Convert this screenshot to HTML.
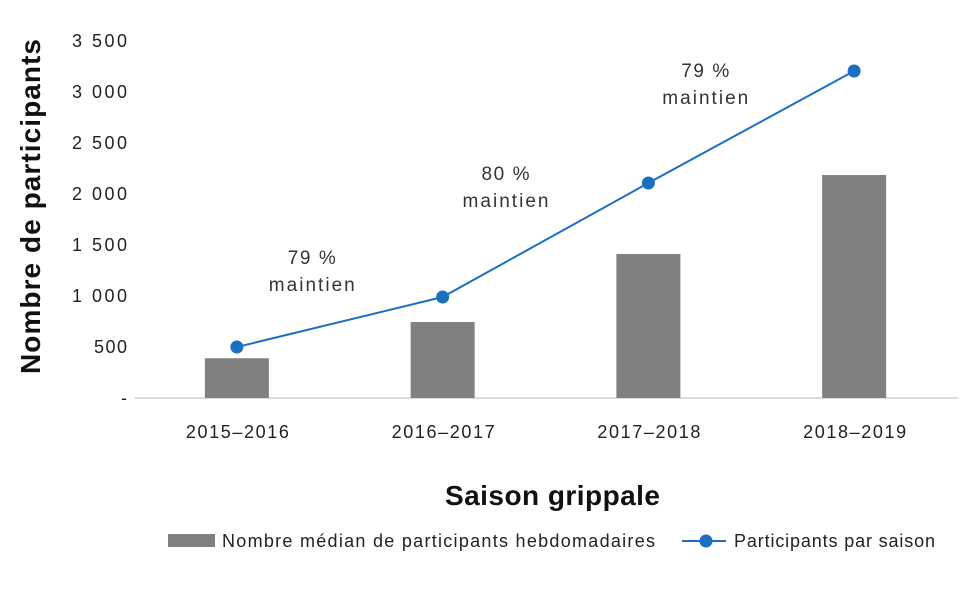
<!DOCTYPE html>
<html><head><meta charset="utf-8"><style>
body{margin:0;background:#fff;}
svg{display:block;font-family:"Liberation Sans",Arial,sans-serif;}
</style></head><body>
<svg id="chart" width="980" height="589"></svg>
<script>
const categories=["2015–2016","2016–2017","2017–2018","2018–2019"];
const medianWeekly=[390,745,1412,2186];
const perSeason=[500,990,2108,3206];
const yTicks=[0,500,1000,1500,2000,2500,3000,3500];
const yTickLabels=["-","500","1 000","1 500","2 000","2 500","3 000","3 500"];
const retentionPct=["79 %","80 %","79 %"];

const NS="http://www.w3.org/2000/svg";
const svg=document.getElementById('chart');
const L=135,R=958,T=41,B=398,yMax=3500;
const bw=(R-L)/categories.length;
const x=i=>L+bw*(i+0.5)-1;
const y=v=>B-(v/yMax)*(B-T);
const annDx=[-28,-40,-46], annDy=[-58,-60,-50];
function mk(tag,attrs,text){const e=document.createElementNS(NS,tag);for(const k in attrs)e.setAttribute(k,attrs[k]);if(text!==undefined)e.textContent=text;svg.appendChild(e);return e;}

yTicks.forEach((t,i)=>{
  const a={x:127,y:y(t)+6,'text-anchor':'end','font-size':18,fill:'#222'};
  if(yTickLabels[i].length>3)a.textLength=55;else if(yTickLabels[i].length==3)a.textLength=33;
  const e=mk('text',a,yTickLabels[i]);
  
  
});
const ax=mk('line',{x1:L,x2:R,y1:B,y2:B,stroke:'#bbb','stroke-width':1});



categories.forEach((c,i)=>{
  const b=mk('rect',{x:x(i)-32,y:y(medianWeekly[i]),width:64,height:B-y(medianWeekly[i]),fill:'#808080'});
  
  
  const t=mk('text',{x:x(i)-51,y:438,'font-size':18,fill:'#222',textLength:103},c);
  
  
});
const pts=perSeason.map((v,i)=>x(i)+','+y(v)).join(' ');
const pl=mk('polyline',{points:pts,fill:'none',stroke:'#1a6fc0','stroke-width':2});


perSeason.forEach((v,i)=>{
  const c=mk('circle',{cx:x(i),cy:y(v),r:6.5,fill:'#1a6fc0'});
  
  
});
retentionPct.forEach((p,i)=>{
  const mx=(x(i)+x(i+1))/2+annDx[i], my=(y(perSeason[i])+y(perSeason[i+1]))/2+annDy[i];
  const a=mk('text',{x:mx-24,y:my,'font-size':19,fill:'#333',textLength:48},p);
  
  
  const b=mk('text',{x:mx-43,y:my+27,'font-size':19,fill:'#333',textLength:86},'maintien');
  
  
});
const xt=mk('text',{x:445,y:505,'font-size':28,'font-weight':'bold',fill:'#111',textLength:215},'Saison grippale');


const yt=mk('text',{x:-167,y:0,transform:'translate(40,207) rotate(-90)','font-size':28,'font-weight':'bold',fill:'#111',textLength:335},'Nombre de participants');


const lr=mk('rect',{x:168,y:534,width:47,height:13,fill:'#808080'});


const l1=mk('text',{x:222,y:547,'font-size':18,fill:'#222',textLength:433},'Nombre médian de participants hebdomadaires');


const ll=mk('line',{x1:682,x2:726,y1:541,y2:541,stroke:'#1a6fc0','stroke-width':2});


const lc=mk('circle',{cx:706,cy:541,r:6.5,fill:'#1a6fc0'});


const l2=mk('text',{x:734,y:547,'font-size':18,fill:'#222',textLength:201},'Participants par saison');


</script>
</body></html>
